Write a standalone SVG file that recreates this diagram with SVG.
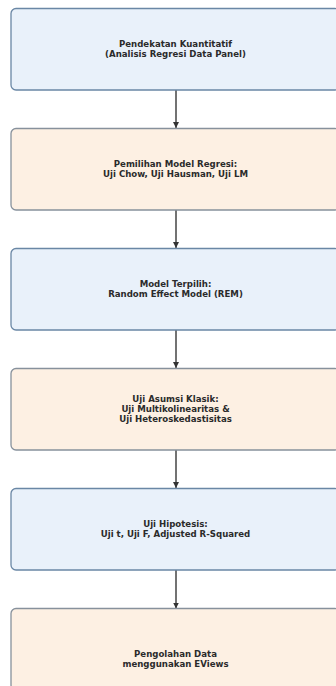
<svg xmlns="http://www.w3.org/2000/svg" width="336" height="686" viewBox="0 0 336 686">
<defs>
<marker id="arr" viewBox="0 0 10 10" refX="10" refY="5" markerWidth="6" markerHeight="7" markerUnits="userSpaceOnUse" orient="auto">
<path d="M0,0 L10,5 L0,10 z" fill="#333"/>
</marker>
<style>
.blue{fill:#e9f1fa;stroke:#6a87a5;stroke-width:1.3}
.peach{fill:#fdf0e3;stroke:#87919c;stroke-width:1.3}
.t{font-family:"DejaVu Sans",sans-serif;font-weight:bold;font-size:8.6px;fill:#2b2b2b;text-anchor:middle}
.c{stroke:#444;stroke-width:1.5;fill:none;marker-end:url(#arr)}
</style>
</defs>
<rect width="336" height="686" fill="#ffffff"/>
<g id="connectors">
<line class="c" x1="176" y1="90" x2="176" y2="128"/>
<line class="c" x1="176" y1="210" x2="176" y2="248"/>
<line class="c" x1="176" y1="330" x2="176" y2="368"/>
<line class="c" x1="176" y1="450" x2="176" y2="488"/>
<line class="c" x1="176" y1="570" x2="176" y2="608.5"/>
</g>
<g id="n1">
<rect class="blue" x="11" y="8.5" width="329" height="81.5" rx="5"/>
<text class="t" x="175.5" y="47">Pendekatan Kuantitatif</text>
<text class="t" x="175.5" y="57">(Analisis Regresi Data Panel)</text>
</g>
<g id="n2">
<rect class="peach" x="11" y="128.5" width="329" height="81.5" rx="5"/>
<text class="t" x="175.5" y="167">Pemilihan Model Regresi:</text>
<text class="t" x="175.5" y="177">Uji Chow, Uji Hausman, Uji LM</text>
</g>
<g id="n3">
<rect class="blue" x="11" y="248.5" width="329" height="81.5" rx="5"/>
<text class="t" x="175.5" y="287">Model Terpilih:</text>
<text class="t" x="175.5" y="297">Random Effect Model (REM)</text>
</g>
<g id="n4">
<rect class="peach" x="11" y="368.5" width="329" height="81.5" rx="5"/>
<text class="t" x="175.5" y="402">Uji Asumsi Klasik:</text>
<text class="t" x="175.5" y="412">Uji Multikolinearitas &amp;</text>
<text class="t" x="175.5" y="422">Uji Heteroskedastisitas</text>
</g>
<g id="n5">
<rect class="blue" x="11" y="488.5" width="329" height="81.5" rx="5"/>
<text class="t" x="175.5" y="527">Uji Hipotesis:</text>
<text class="t" x="175.5" y="537">Uji t, Uji F, Adjusted R-Squared</text>
</g>
<g id="n6">
<rect class="peach" x="11" y="608.5" width="329" height="81.5" rx="5"/>
<text class="t" x="175.5" y="657">Pengolahan Data</text>
<text class="t" x="175.5" y="667">menggunakan EViews</text>
</g>
</svg>
